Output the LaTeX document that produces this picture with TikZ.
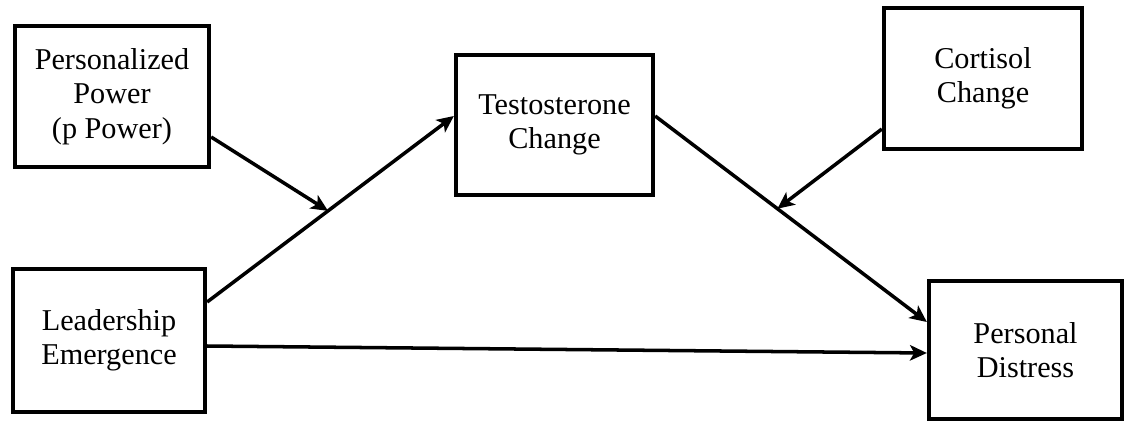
\documentclass[tikz,border=0pt]{standalone}
\usepackage{fontspec}
\setmainfont{Liberation Serif}
\usetikzlibrary{calc,arrows.meta}

\begin{document}
\begin{tikzpicture}[x=0.025cm, y=-0.025cm,
		box/.style={draw, line width=3pt, rectangle, align=center, inner sep=0pt, font=\fontsize{21.5}{24.5}\selectfont},
		arr/.style={line width=2.5pt, -{Stealth[length=12pt, width=11pt, inset=3pt]}}]
			%%%%% START %%%%%
			
			\useasboundingbox (0,0) rectangle (1128,421);
			
			\node[box, minimum width=4.85cm, minimum height=3.525cm] (ppower) at (112, 96.5) {Personalized\\Power\\(p Power)};
			\node[box, minimum width=4.925cm, minimum height=3.5cm] (testo) at (554.5, 125) {Testosterone\\Change};
			\node[box, minimum width=4.95cm, minimum height=3.525cm] (cortisol) at (983, 78.5) {Cortisol\\Change};
			\node[box, minimum width=4.8cm, minimum height=3.575cm] (leader) at (109, 340.5) {Leadership\\Emergence};
			\node[box, minimum width=4.825cm, minimum height=3.45cm] (distress) at (1025.5, 350) {Personal\\Distress};
			
			% path ends on the box edges
			\coordinate (le1) at (leader.east |- 0,302);
			\coordinate (le2) at (leader.east |- 0,346);
			\coordinate (te1) at (testo.west |- 0,116);
			\coordinate (te2) at (testo.east |- 0,116);
			\coordinate (de1) at (distress.west |- 0,322);
			\coordinate (de2) at (distress.west |- 0,353);
			
			% moderation points
			\coordinate (mod1) at ($(le1)!0.49!(te1)$);
			\coordinate (mod2) at ($(te2)!0.45!(de1)$);
			
			\draw[arr] (le1) -- (te1);
			\draw[arr] (te2) -- (de1);
			\draw[arr] (le2) -- (de2);
			\draw[arr] (ppower.east |- 0,137) -- (mod1);
			\draw[arr] (cortisol.west |- 0,129) -- (mod2);
			
			%%%%% END %%%%%
		\end{tikzpicture}
\end{document}
